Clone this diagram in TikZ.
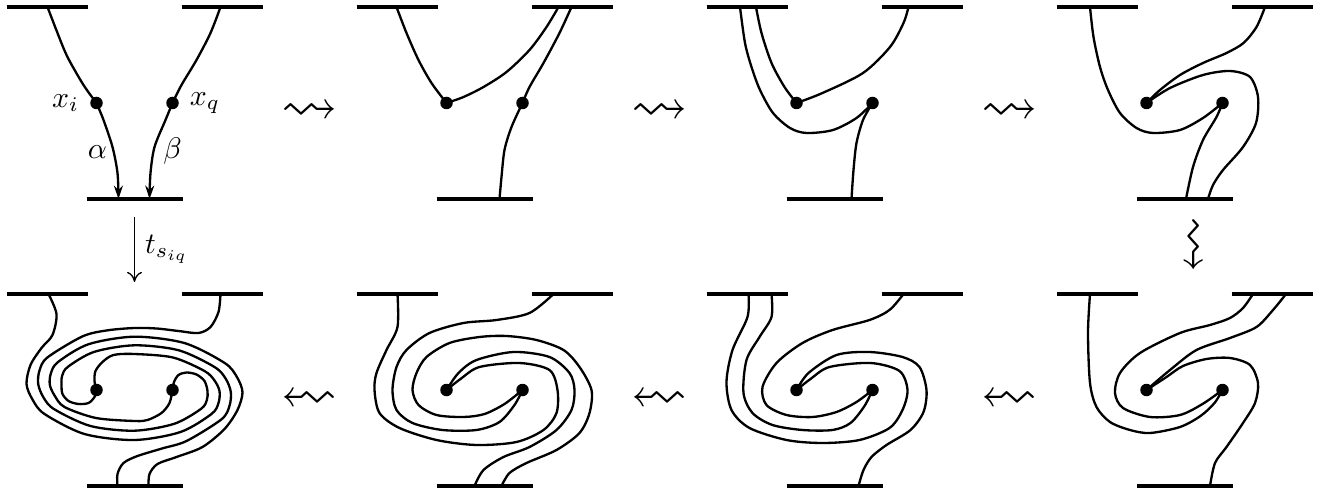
\documentclass[tikz,border=0pt]{standalone}
\usepackage{amsmath, amssymb}
\usepackage{tikz}
\usetikzlibrary{arrows.meta}

\tikzset{
  gate/.style={line width=1.15pt},
  strand/.style={line width=0.78pt},
  puncture/.style={circle, fill, inner sep=0pt, minimum size=4.2pt},
  squig/.style={font=\fontsize{19}{22}\selectfont},
}

\begin{document}
\begin{tikzpicture}[x=0.336pt, y=0.336pt]
  \useasboundingbox (0,0) rectangle (1326,491);

  % Boundary segments of the eight disks
  \foreach \cx/\cy in {134.5/388, 484.5/388, 834.5/388, 1184.5/388,
                       134.5/101, 484.5/101, 834.5/101, 1184.5/101} {
    \begin{scope}[shift={(\cx,\cy)}]
      \draw[gate] (-128,96) -- (-47,96);
      \draw[gate] (47,96) -- (128,96);
      \draw[gate] (-48,-96) -- (48,-96);
    \end{scope}
  }

  % Panel 1: the arcs alpha and beta
  \begin{scope}[shift={(134.5,388)}]
    \node[puncture, label={left:$x_i$}] (p1i) at (-38,0) {};
    \node[puncture, label={right:$x_q$}] (p1q) at (38,0) {};
    \draw[strand] plot[smooth] coordinates {(-87,96) (-77,70) (-67,46) (-51,18) (p1i)};
    \draw[strand, -{Stealth[length=4.5pt, width=3pt]}] plot[smooth] coordinates
      {(p1i) (-31,-17) (-22,-44) (-17,-70) (-16,-96)};
    \draw[strand] plot[smooth] coordinates {(86,96) (76,70) (62,43) (47,18) (p1q)};
    \draw[strand, -{Stealth[length=4.5pt, width=3pt]}] plot[smooth] coordinates
      {(p1q) (31,-17) (20,-44) (16,-70) (15,-96)};
    \node (alpha) at (-37,-49) {$\alpha$};
    \node (beta) at (38,-48) {$\beta$};
  \end{scope}

  % Panel 2
  \begin{scope}[shift={(484.5,388)}]
    \node[puncture] (p2i) at (-38,0) {};
    \node[puncture] (p2q) at (38,0) {};
    \draw[strand] plot[smooth] coordinates {(-88,96) (-78,70) (-66,43) (-53,20) (p2i)};
    \draw[strand] plot[smooth] coordinates {(p2i) (-21,6) (-1,16) (22,31) (45,53) (62,76) (74,96)};
    \draw[strand] plot[smooth] coordinates {(87,96) (75,70) (59,40) (45,16) (p2q)};
    \draw[strand] plot[smooth] coordinates {(p2q) (27,-24) (20,-47) (17,-74) (15,-96)};
  \end{scope}

  % Panel 3
  \begin{scope}[shift={(834.5,388)}]
    \node[puncture] (p3i) at (-38,0) {};
    \node[puncture] (p3q) at (38,0) {};
    \draw[strand] plot[smooth] coordinates {(-78.5,96) (-73,70) (-63,40) (-50,16) (p3i)};
    \draw[strand] plot[smooth] coordinates {(p3i) (-12,10) (28.5,30) (55.5,56) (69,80) (74,96)};
    \draw[strand] plot[smooth] coordinates {(-94.5,96) (-89.5,60) (-83,36) (-74.5,13) (-61.5,-10)
      (-44.5,-25) (-28,-30) (-1.5,-27) (22,-15) (p3q)};
    \draw[strand] plot[smooth] coordinates {(p3q) (28.5,-17) (22,-40) (19,-67) (17,-96)};
  \end{scope}

  % Panel 4
  \begin{scope}[shift={(1184.5,388)}]
    \node[puncture] (p4i) at (-38,0) {};
    \node[puncture] (p4q) at (38,0) {};
    \draw[strand] plot[smooth] coordinates {(-94.5,96) (-91,66) (-84.5,36) (-76.5,13) (-64.5,-10)
      (-48,-25) (-31.5,-30) (-4.5,-27) (18.5,-15) (p4q)};
    \draw[strand] plot[smooth] coordinates {(80.5,96) (72,76) (59,60) (42,50) (18.5,40) (-4.5,28)
      (-24.5,13) (p4i)};
    \draw[strand] plot[smooth] coordinates {(p4i) (-14.5,15) (18.5,28) (45.5,32) (65.5,26) (73.5,6)
      (71.5,-20) (58.5,-44) (38.5,-67) (28.5,-82) (23.5,-96)};
    \draw[strand] plot[smooth] coordinates {(p4q) (32,-14) (18.5,-37) (8.5,-64) (1.5,-96)};
  \end{scope}

  % Panel 8
  \begin{scope}[shift={(1184.5,101)}]
    \node[puncture] (p8i) at (-38,0) {};
    \node[puncture] (p8q) at (38,0) {};
    \draw[strand] plot[smooth] coordinates {(-94.5,96) (-96.5,57) (-94.5,7) (-88,-17) (-74.5,-32)
      (-54.5,-40) (-34.5,-43) (-4.5,-37) (16,-26) (30,-13) (p8q)};
    \draw[strand] plot[smooth] coordinates {(68.5,96) (58.5,82) (45.5,72) (25.5,65) (-4.5,57)
      (-44.5,37) (-64.5,17) (-69.5,-3) (-61.5,-18) (-34.5,-27) (-4.5,-25) (18,-14) (p8q)};
    \draw[strand] plot[smooth] coordinates {(101.5,96) (88.5,80) (72,63) (45.5,52) (12,40)
      (-14.5,20) (p8i)};
    \draw[strand] plot[smooth] coordinates {(p8i) (-18,13) (-1.5,24) (22,31) (45.5,32) (65.5,25)
      (73.5,7) (70.5,-13) (58.5,-33) (42,-57) (30.5,-73) (25.5,-96)};
  \end{scope}

  % Panel 7
  \begin{scope}[shift={(834.5,101)}]
    \node[puncture] (p7i) at (-38,0) {};
    \node[puncture] (p7q) at (38,0) {};
    \draw[strand] plot[smooth] coordinates {(-86,96) (-87,73) (-102,40) (-108,8) (-103,-20)
      (-85,-38) (-48,-50) (-12,-53) (25,-50) (55,-38) (68,-20) (73,0) (65,19) (36,27) (-5,23)
      (-24,11) (p7i)};
    \draw[strand] plot[smooth] coordinates {(p7i) (-26,17) (2,35) (35,38) (68,33) (85,23) (92,0)
      (89,-22) (76,-40) (52,-55) (37,-67) (29,-80) (24,-96)};
    \draw[strand] plot[smooth] coordinates {(-63,96) (-63,73) (-75,53) (-88,30) (-91,-3) (-82,-23)
      (-62,-35) (-32,-40) (-2,-40) (16,-33) (30,-16) (p7q)};
    \draw[strand] plot[smooth] coordinates {(69,96) (55,80) (35,70) (-2,60) (-32,47) (-58,27)
      (-72,3) (-68,-15) (-48,-25) (-22,-27) (2,-22) (22,-12) (p7q)};
  \end{scope}

  % Panel 6
  \begin{scope}[shift={(484.5,101)}]
    \node[puncture] (p6i) at (-38,0) {};
    \node[puncture] (p6q) at (38,0) {};
    \draw[strand] plot[smooth] coordinates {(-87,96) (-87,63) (-98,40) (-108,17) (-110,0)
      (-105,-23) (-85,-38) (-48,-50) (-8,-55) (32,-52) (59,-40) (72,-23) (73,0) (65,20) (35,27)
      (-5,23) (-24,11) (p6i)};
    \draw[strand] plot[smooth] coordinates {(p6i) (-26,17) (-8,30) (29,38) (65,33) (85,17) (90,0)
      (87,-20) (72,-40) (45,-57) (19,-67) (-1,-80) (-10,-96)};
    \draw[strand] plot[smooth] coordinates {(69,96) (45,77) (12,70) (-21,67) (-55,57) (-78,40)
      (-88,23) (-92,0) (-88,-20) (-72,-33) (-42,-40) (-8,-40) (15,-32) (30,-15) (p6q)};
    \draw[strand] plot[smooth] coordinates {(p6q) (20,-14) (0,-24) (-21,-27) (-48,-25) (-66,-15)
      (-72,0) (-68,17) (-58,33) (-35,47) (-5,53) (22,54) (52,50) (79,40) (95,23) (107,0)
      (105,-23) (95,-43) (72,-60) (42,-73) (25,-83) (17,-96)};
  \end{scope}

  % Panel 5: after the full twist
  \begin{scope}[shift={(134.5,101)}]
    \node[puncture] (p5i) at (-38,0) {};
    \node[puncture] (p5q) at (38,0) {};
    \draw[strand] plot[smooth] coordinates {(-86,96) (-78,76) (-82,55) (-93,42) (-104,25) (-108,6)
      (-102,-9.5) (-90,-24) (-50,-44) (0,-50) (46,-42) (77,-24) (84,-13) (85,-1) (80,9.5)
      (70,19) (38.5,32.5) (0,36) (-21,35) (-32,28) (-39,19) (-40,9) (p5i)};
    \draw[strand] plot[smooth] coordinates {(86,96) (84,78) (76,63) (64,57) (44,59) (22,61.5)
      (0,62) (-27.5,59.6) (-52,53.6) (-87,32.6) (-95,19.5) (-96.3,5.9) (-91,-7.5) (-80,-19.4)
      (-44,-36) (0,-40.7) (40,-33.7) (66.6,-18.8) (72.4,-9.9) (73,-1) (70,9) (62,15.5)
      (52,17.5) (44,15) (39.5,8) (p5q)};
    \draw[strand] plot[smooth] coordinates {(-17,-96) (-17,-84) (-11,-73) (3,-66) (27.5,-58.5)
      (52,-51) (87,-29.3) (95,-15.8) (96.3,-1.9) (91.2,11.3) (80,23) (44.3,39.7) (0,44.7)
      (-40.4,38.1) (-66.6,23.2) (-72.4,14.1) (-73,4.9) (-72,-4) (-66,-11) (-56,-14) (-46,-13)
      (-40,-7) (p5i)};
    \draw[strand] plot[smooth] coordinates {(14,-96) (15,-84) (23,-74) (42,-67) (68,-57) (90,-39)
      (103,-20) (108,-2.3) (102.4,13) (90.2,27) (50.1,46.9) (0,53.3) (-46.2,45.7) (-76.6,27.9)
      (-83.6,16.7) (-84.7,5.4) (-80,-5.4) (-70,-17) (-38.5,-28) (0,-31) (13,-30) (27,-23)
      (35,-13) (p5q)};
  \end{scope}

  % Moves between the panels
  \node[squig] (sq12) at (309.5,378) {$\rightsquigarrow$};
  \node[squig] (sq23) at (659.5,378) {$\rightsquigarrow$};
  \node[squig] (sq34) at (1009.5,378) {$\rightsquigarrow$};
  \node[squig, rotate=-90] (sq48) at (1190,246) {$\rightsquigarrow$};
  \node[squig] (sq87) at (1009.5,90) {\reflectbox{$\rightsquigarrow$}};
  \node[squig] (sq76) at (659.5,90) {\reflectbox{$\rightsquigarrow$}};
  \node[squig] (sq65) at (309.5,90) {\reflectbox{$\rightsquigarrow$}};

  % The twist itself
  \coordinate (twtop) at (134.5,274);
  \coordinate (twbot) at (134.5,209);
  \draw[line width=0.45pt, -{Computer Modern Rightarrow[length=3.4pt, width=5pt]}]
    (twtop) -- node[right] (twlabel) {$t_{s_{iq}}$} (twbot);
\end{tikzpicture}
\end{document}
